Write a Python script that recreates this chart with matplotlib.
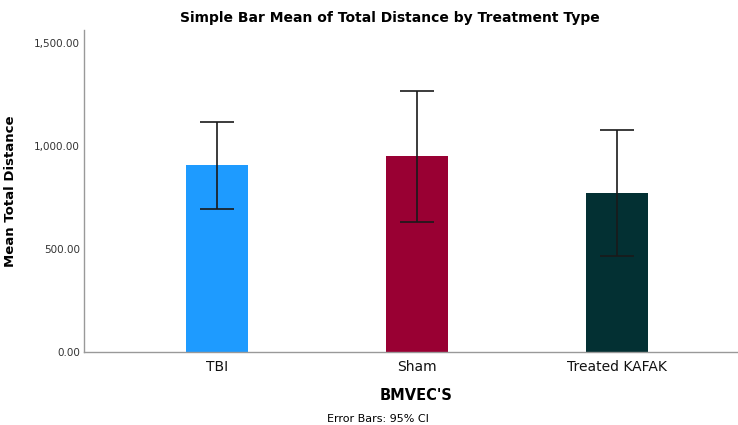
import matplotlib
matplotlib.use("Agg")
import matplotlib.pyplot as plt
import numpy as np

plt.rcParams['font.family'] = ['DejaVu Sans']

# Group means and 95% CI bounds of total distance
categories = ["TBI", "Sham", "Treated KAFAK"]
means = [908, 951, 772]
ci_lower = [694, 631, 466]
ci_upper = [1117, 1267, 1078]
colors = ["#1e9bff", "#990033", "#033033"]
yticks = [0, 500, 1000, 1500]

W, H = 738, 425
fig = plt.figure(figsize=(W / 100, H / 100), dpi=100)
ax_left, ax_right, ax_bottom, ax_top = 84, 738, 352, 30
ax = fig.add_axes([ax_left / W, (H - ax_bottom) / H,
                   (ax_right - ax_left) / W, (ax_bottom - ax_top) / H])

x = np.arange(len(categories))
means_a = np.array(means)
yerr = np.vstack([means_a - np.array(ci_lower), np.array(ci_upper) - means_a])

ax.bar(x, means, width=0.31, color=colors, zorder=2)
ax.errorbar(x, means, yerr=yerr, fmt="none", ecolor="#1a1a1a", elinewidth=1.2,
            capsize=12, capthick=1.2, zorder=3)

ax.set_xlim(-0.665, -0.665 + (ax_right - ax_left) / 200)
ax.set_ylim(0, 1563)
ax.set_yticks(yticks)
ax.set_yticklabels([f"{v:,.2f}" for v in yticks], fontsize=7.5, color="#333333")
ax.set_xticks(x)
ax.set_xticklabels(categories, fontsize=10, color="#111111")
ax.tick_params(axis="both", length=0)
ax.tick_params(axis="x", pad=6)
ax.tick_params(axis="y", pad=3)

for side in ("top", "right"):
    ax.spines[side].set_visible(False)
for side in ("left", "bottom"):
    ax.spines[side].set_color("#999999")
    ax.spines[side].set_linewidth(1.0)

ax.set_ylabel("Mean Total Distance", fontsize=9.5, fontweight="bold")
ax.yaxis.set_label_coords((17 - ax_left) / (ax_right - ax_left),
                          (ax_bottom - 191) / (ax_bottom - ax_top))

fig.text(416 / W, 1 - 395 / H, "BMVEC'S", ha="center", va="center",
         fontsize=10.5, fontweight="bold")
fig.text(0.528, 1 - 18 / H, "Simple Bar Mean of Total Distance by Treatment Type",
         ha="center", va="center", fontsize=10, fontweight="bold")
fig.text(378 / W, 1 - 419 / H, "Error Bars: 95% CI", ha="center", va="center",
         fontsize=8)

fig.savefig("out.png", dpi=100)
